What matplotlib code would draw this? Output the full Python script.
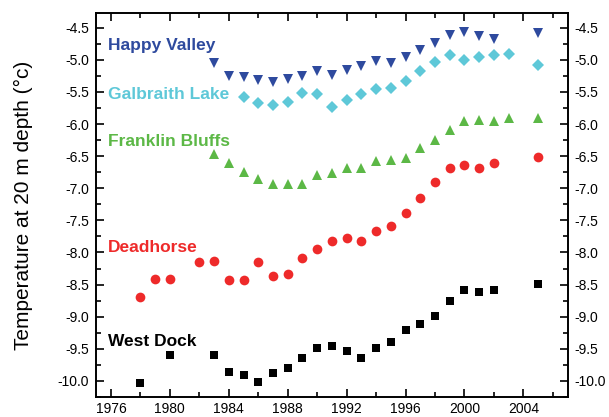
"""
Permafrost temperature at 20 m depth, Alaska North Slope sites
"""

import matplotlib.pyplot as plt
from matplotlib.ticker import MultipleLocator

plt.rcParams['font.family'] = ['Liberation Sans', 'DejaVu Sans']

# Data
hv_years = [1983, 1984, 1985, 1986, 1987, 1988, 1989, 1990, 1991, 1992, 1993, 1994,
            1995, 1996, 1997, 1998, 1999, 2000, 2001, 2002, 2005]
hv_temp = [-5.05, -5.25, -5.27, -5.32, -5.35, -5.30, -5.25, -5.18, -5.23, -5.16, -5.09,
           -5.02, -5.05, -4.95, -4.85, -4.74, -4.62, -4.57, -4.63, -4.67, -4.58]

gl_years = [1985, 1986, 1987, 1988, 1989, 1990, 1991, 1992, 1993, 1994, 1995, 1996,
            1997, 1998, 1999, 2000, 2001, 2002, 2003, 2005]
gl_temp = [-5.58, -5.67, -5.71, -5.66, -5.51, -5.53, -5.73, -5.63, -5.54, -5.46, -5.44,
           -5.33, -5.17, -5.03, -4.93, -5.00, -4.95, -4.93, -4.91, -5.08]

fb_years = [1983, 1984, 1985, 1986, 1987, 1988, 1989, 1990, 1991, 1992, 1993, 1994,
            1995, 1996, 1997, 1998, 1999, 2000, 2001, 2002, 2003, 2005]
fb_temp = [-6.47, -6.61, -6.75, -6.86, -6.93, -6.93, -6.93, -6.80, -6.76, -6.69, -6.69,
           -6.58, -6.56, -6.53, -6.38, -6.25, -6.09, -5.95, -5.93, -5.96, -5.91, -5.90]

dh_years = [1978, 1979, 1980, 1982, 1983, 1984, 1985, 1986, 1987, 1988, 1989, 1990,
            1991, 1992, 1993, 1994, 1995, 1996, 1997, 1998, 1999, 2000, 2001, 2002, 2005]
dh_temp = [-8.69, -8.41, -8.41, -8.15, -8.13, -8.43, -8.43, -8.15, -8.37, -8.33, -8.09,
           -7.94, -7.82, -7.78, -7.82, -7.66, -7.58, -7.38, -7.15, -6.91, -6.69, -6.64,
           -6.68, -6.60, -6.52]

wd_years = [1978, 1980, 1983, 1984, 1985, 1986, 1987, 1988, 1989, 1990, 1991, 1992,
            1993, 1994, 1995, 1996, 1997, 1998, 1999, 2000, 2001, 2002, 2005]
wd_temp = [-10.04, -9.59, -9.59, -9.86, -9.90, -10.02, -9.87, -9.80, -9.64, -9.49, -9.46,
           -9.54, -9.64, -9.48, -9.39, -9.21, -9.11, -8.99, -8.76, -8.58, -8.62, -8.59,
           -8.49]

# Colours
HV_COLOR = '#2e4a9e'
GL_COLOR = '#5ec8d8'
FB_COLOR = '#5cb846'
DH_COLOR = '#ee2a2a'
WD_COLOR = 'black'

fig = plt.figure(figsize=(6.09, 4.17), dpi=100)
ax = fig.add_axes([0.158, 0.048, 0.774, 0.921])

ax.plot(hv_years, hv_temp, 'v', color=HV_COLOR, ms=7.5, mew=0)
ax.plot(gl_years, gl_temp, 'D', color=GL_COLOR, ms=6.5, mew=0)
ax.plot(fb_years, fb_temp, '^', color=FB_COLOR, ms=7.5, mew=0)
ax.plot(dh_years, dh_temp, 'o', color=DH_COLOR, ms=7, mew=0)
ax.plot(wd_years, wd_temp, 's', color=WD_COLOR, ms=6, mew=0)

# Site labels
label_kw = dict(fontsize=12.5, fontweight='bold', ha='left', va='center')
ax.text(1975.8, -4.78, 'Happy Valley', color=HV_COLOR, **label_kw)
ax.text(1975.8, -5.54, 'Galbraith Lake', color=GL_COLOR, **label_kw)
ax.text(1975.8, -6.27, 'Franklin Bluffs', color=FB_COLOR, **label_kw)
ax.text(1975.8, -7.93, 'Deadhorse', color=DH_COLOR, **label_kw)
ax.text(1975.8, -9.38, 'West Dock', color=WD_COLOR, **label_kw)

ax.set_xlim(1975, 2007)
ax.set_ylim(-10.25, -4.27)
ax.xaxis.set_major_locator(MultipleLocator(4))
ax.xaxis.set_minor_locator(MultipleLocator(2))
ax.yaxis.set_major_locator(MultipleLocator(0.5))
ax.yaxis.set_minor_locator(MultipleLocator(0.25))
ax.yaxis.set_major_formatter(plt.FormatStrFormatter('%.1f'))

ax.tick_params(which='both', direction='in', top=True, right=True,
               labelright=True, labelsize=10, width=1.2)
ax.tick_params(which='major', length=6)
ax.tick_params(which='minor', length=3.5)
ax.tick_params(axis='y', which='major', pad=5)
ax.tick_params(axis='x', which='major', pad=3.5)
for spine in ax.spines.values():
    spine.set_linewidth(1.4)

ax.set_ylabel('Temperature at 20 m depth (°c)', fontsize=15)
ax.yaxis.set_label_coords(-0.135, 0.5)

plt.savefig('out.png', dpi=100)
plt.close()
